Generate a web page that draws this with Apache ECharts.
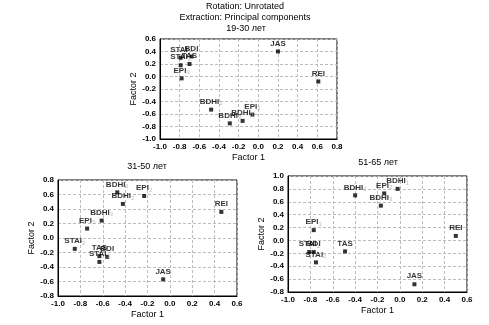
<!DOCTYPE html>
<html><head><meta charset="utf-8">
<script src="https://cdn.jsdelivr.net/npm/echarts@6/dist/echarts.min.js"></script>
<style>html,body{margin:0;padding:0;background:#fff}#c{width:489px;height:325px}</style>
</head><body><div id="c"></div>
<script>
// 19-30 лет
const labels1930 = ['JAS','REI','STAI','STAI','TAS','BDI','EPI','BDHI','BDHI','BDHI','EPI'];
const subs1930   = ['','','1','2','','','3','2','3','1','2'];
const x1930 = [0.20, 0.61, -0.79, -0.79, -0.70, -0.68, -0.78, -0.48, -0.29, -0.16, -0.06];
const y1930 = [0.40, -0.08, 0.30, 0.18, 0.20, 0.32, -0.03, -0.53, -0.75, -0.71, -0.61];
// 31-50 лет
const labels3150 = ['BDHI','EPI','BDHI','REI','BDHI','EPI','STAI','TAS','BDI','STAI','JAS'];
const subs3150   = ['1','2','2','','3','3','2','','','1',''];
const x3150 = [-0.47, -0.23, -0.42, 0.46, -0.61, -0.74, -0.85, -0.63, -0.56, -0.63, -0.06];
const y3150 = [0.63, 0.58, 0.47, 0.36, 0.24, 0.13, -0.15, -0.25, -0.26, -0.33, -0.57];
// 51-65 лет
const labels5165 = ['BDHI','EPI','BDHI','BDHI','EPI','REI','STAI','BDI','STAI','TAS','JAS'];
const subs5165   = ['1','2','2','3','3','','1','','2','',''];
const x5165 = [-0.02, -0.14, -0.40, -0.17, -0.77, 0.50, -0.81, -0.77, -0.75, -0.49, 0.13];
const y5165 = [0.80, 0.73, 0.70, 0.54, 0.16, 0.07, -0.18, -0.18, -0.34, -0.17, -0.68];

const titleLines = ['Rotation: Unrotated', 'Extraction: Principal components'];
const panelTitles = ['19-30 лет', '31-50 лет', '51-65 лет'];
const xName = 'Factor 1', yName = 'Factor 2';

const FF = '"Liberation Sans", Arial, sans-serif';
const chart = echarts.init(document.getElementById('c'));

function mk(labels, subs, xs, ys) {
  return xs.map((x, i) => ({ value: [x, ys[i]], lab: labels[i], sub: subs[i] }));
}
const grids = [
  { left: 160, top: 39, width: 177, height: 100 },
  { left: 58, top: 180, width: 179, height: 116 },
  { left: 288, top: 176, width: 179, height: 116 }
];
const xr = [[-1.0, 0.8], [-1.0, 0.6], [-1.0, 0.6]];
const yr = [[-1.0, 0.6], [-0.8, 0.8], [-0.8, 1.0]];
const fmt = v => (Math.abs(v) < 1e-9 ? 0 : v).toFixed(1);
const axisCommon = {
  interval: 0.2,
  axisLine: { show: true, onZero: false, lineStyle: { color: '#000', width: 1 } },
  axisTick: { show: false },
  splitLine: { show: true, lineStyle: { color: '#bdbdbd', type: [3, 2], width: 1 } },
  axisLabel: { fontSize: 8, color: '#000', fontFamily: FF, fontWeight: 'bold', formatter: fmt, margin: 4 },
  nameLocation: 'middle',
  nameTextStyle: { fontSize: 9, color: '#000', fontFamily: FF }
};
const xAxis = xr.map((r, i) => Object.assign({}, axisCommon, { type: 'value', gridIndex: i, min: r[0], max: r[1], name: xName, nameGap: 14 }));
const yAxis = yr.map((r, i) => Object.assign({}, axisCommon, { type: 'value', gridIndex: i, min: r[0], max: r[1], name: yName, nameGap: 22 }));

const datasets = [mk(labels1930, subs1930, x1930, y1930), mk(labels3150, subs3150, x3150, y3150), mk(labels5165, subs5165, x5165, y5165)];
const series = datasets.map((d, i) => ({
  type: 'scatter', xAxisIndex: i, yAxisIndex: i, data: d,
  symbol: 'rect', symbolSize: 4, itemStyle: { color: '#000' },
  label: {
    show: true, position: 'top', distance: 1,
    formatter: p => '{m|' + p.data.lab + '}' + (p.data.sub ? '{s|' + p.data.sub + '}' : ''),
    rich: {
      m: { fontSize: 8, fontWeight: 'bold', color: '#000', fontFamily: FF, lineHeight: 10 },
      s: { fontSize: 6, color: '#aaa', fontFamily: FF, verticalAlign: 'bottom', lineHeight: 6, padding: [4, 0, 0, 0] }
    }
  },
  emphasis: { disabled: true }
}));

const tstyle = (t, x, y) => ({ type: 'text', x: x, y: y, style: { text: t, x: 0, y: 0, textAlign: 'center', textVerticalAlign: 'middle', font: '9px ' + FF, fill: '#000' } });

chart.setOption({
  animation: false,
  grid: grids.map(g => Object.assign({ show: true, borderColor: '#000', borderWidth: 1, containLabel: false }, g)),
  xAxis: xAxis, yAxis: yAxis, series: series,
  graphic: [
    tstyle(titleLines[0], 245, 7),
    tstyle(titleLines[1], 245, 18),
    tstyle(panelTitles[0], 246, 29),
    tstyle(panelTitles[1], 147, 167),
    tstyle(panelTitles[2], 378, 163)
  ]
});
</script></body></html>
